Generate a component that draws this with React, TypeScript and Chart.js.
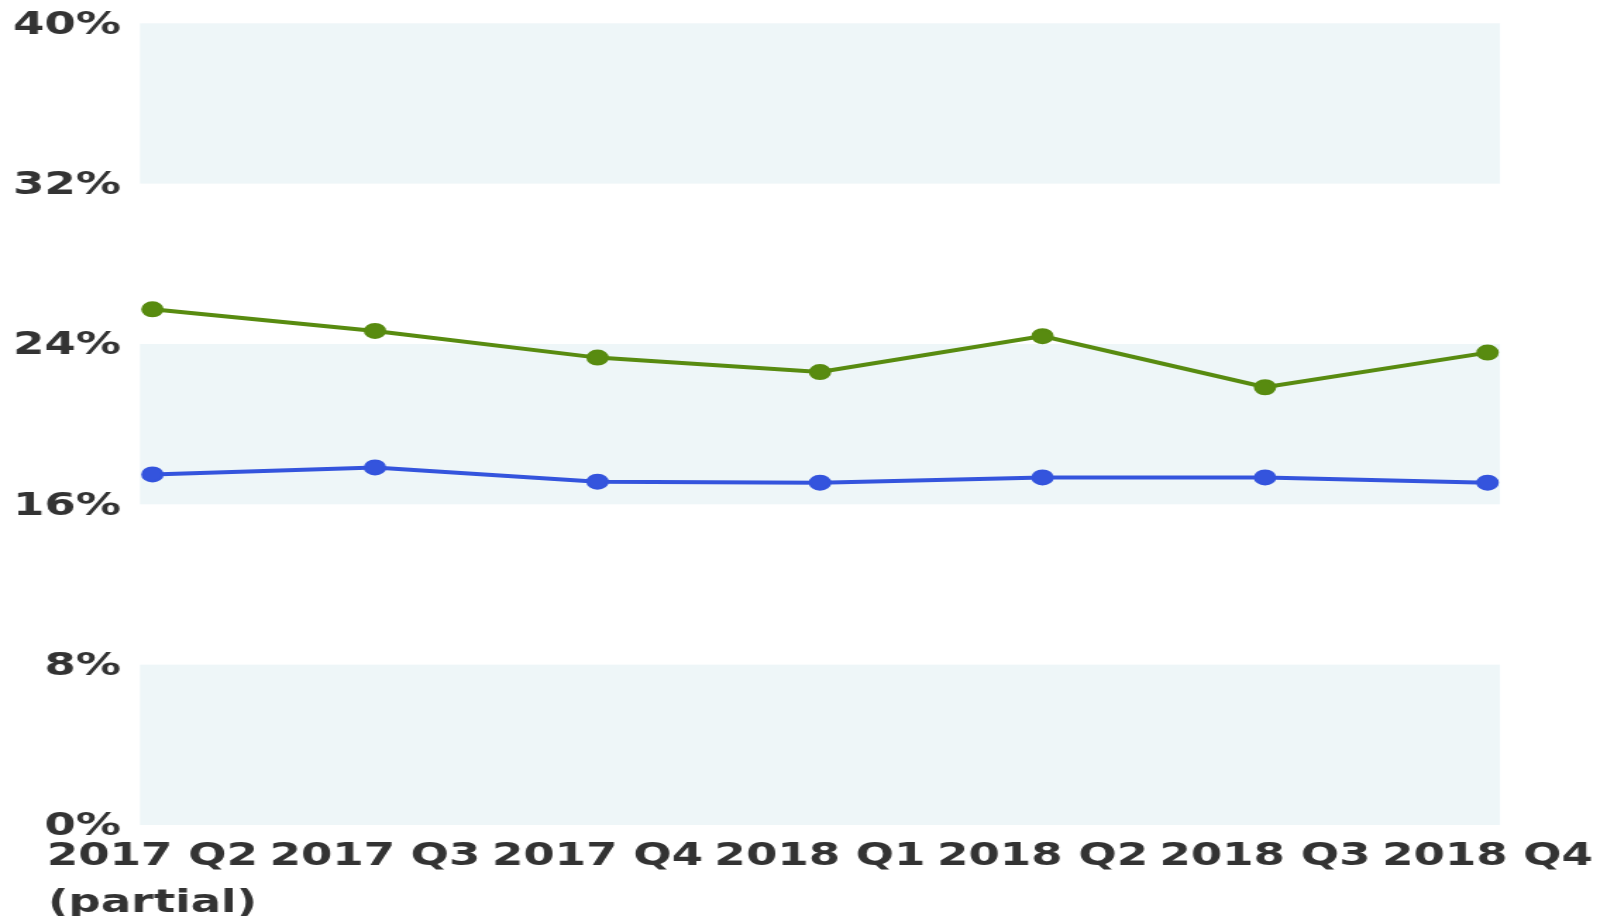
import React, { useEffect, useRef } from "react";
import { Chart, registerables } from "chart.js";

Chart.register(...registerables);

const categories: (string | string[])[] = [
  ["2017 Q2", "(partial)"],
  "2017 Q3",
  "2017 Q4",
  "2018 Q1",
  "2018 Q2",
  "2018 Q3",
  "2018 Q4",
];
const greenSeries = [25.73, 24.65, 23.32, 22.6, 24.39, 21.84, 23.57];
const blueSeries = [17.49, 17.84, 17.13, 17.08, 17.34, 17.34, 17.08];
const yTicks = [0, 8, 16, 24, 32, 40];

const INNER_W = 1140;
const SCALE_X = 1607 / INNER_W;
const INNER_H = 928;

const bandPlugin = {
  id: "bands",
  beforeDatasetsDraw(chart: any) {
    const { ctx, chartArea, scales } = chart;
    const y = scales.y;
    ctx.save();
    ctx.fillStyle = "#eef6f8";
    for (let i = 0; i < yTicks.length - 1; i++) {
      if (i % 2 !== 0) continue;
      const top = y.getPixelForValue(yTicks[i + 1]);
      const bottom = y.getPixelForValue(yTicks[i]);
      ctx.fillRect(chartArea.left, top, chartArea.right - chartArea.left, bottom - top);
    }
    ctx.restore();
  },
};

const zeroPad = (s: any) => {
  s.paddingTop = 0;
  s.paddingBottom = 0;
  s.paddingLeft = 0;
  s.paddingRight = 0;
};

export default function App() {
  const ref = useRef<HTMLCanvasElement>(null);
  useEffect(() => {
    if (!ref.current) return;
    const font = { family: "'DejaVu Sans', sans-serif", size: 32, weight: "bold" as const, lineHeight: 1.49 };
    const chart = new Chart(ref.current, {
      type: "line",
      data: {
        datasets: [
          {
            data: greenSeries.map((v, i) => ({ x: i, y: v })),
            borderColor: "#588b10",
            backgroundColor: "#588b10",
            pointBackgroundColor: "#588b10",
            pointBorderColor: "#588b10",
            borderWidth: 4,
            pointRadius: 7,
            pointBorderWidth: 2,
            tension: 0,
          },
          {
            data: blueSeries.map((v, i) => ({ x: i, y: v })),
            borderColor: "#3454dd",
            backgroundColor: "#3454dd",
            pointBackgroundColor: "#3454dd",
            pointBorderColor: "#3454dd",
            borderWidth: 4,
            pointRadius: 7,
            pointBorderWidth: 2,
            tension: 0,
          },
        ],
      },
      options: {
        animation: false,
        responsive: false,
        devicePixelRatio: 1,
        layout: { padding: { left: 0, top: 23.3, right: INNER_W - 1500 / SCALE_X, bottom: 0 } },
        plugins: { legend: { display: false }, tooltip: { enabled: false } },
        scales: {
          x: {
            type: "linear",
            min: -0.056,
            max: categories.length - 1 + 0.056,
            grid: { display: false, drawTicks: false },
            border: { display: false },
            afterFit: (s: any) => {
              zeroPad(s);
              s.height = INNER_H - 825;
            },
            ticks: {
              stepSize: 1,
              includeBounds: false,
              autoSkip: false,
              maxRotation: 0,
              minRotation: 0,
              padding: 7.6,
              color: "#333333",
              font,
              callback: (v: any) => {
                const idx = Number(v);
                return Number.isInteger(idx) && categories[idx] !== undefined ? categories[idx] : "";
              },
            },
          },
          y: {
            type: "linear",
            min: yTicks[0],
            max: yTicks[yTicks.length - 1],
            grid: { display: false, drawTicks: false },
            border: { display: false },
            afterFit: (s: any) => {
              zeroPad(s);
              s.width = 140 / SCALE_X;
            },
            ticks: {
              stepSize: 8,
              padding: (140 - 121) / SCALE_X,
              labelOffset: 2,
              color: "#333333",
              font: { ...font, lineHeight: 1.2 },
              callback: (v: any) => `${v}%`,
            },
          },
        },
      },
      plugins: [bandPlugin],
    });
    return () => chart.destroy();
  }, []);

  return (
    <div
      style={{
        position: "fixed",
        left: 0,
        top: 0,
        width: 1607,
        height: 916,
        overflow: "hidden",
        background: "#ffffff",
      }}
    >
      <div
        style={{
          width: INNER_W,
          height: INNER_H,
          transform: `scaleX(${SCALE_X})`,
          transformOrigin: "0 0",
        }}
      >
        <canvas ref={ref} width={INNER_W} height={INNER_H} style={{ display: "block" }} />
      </div>
    </div>
  );
}
